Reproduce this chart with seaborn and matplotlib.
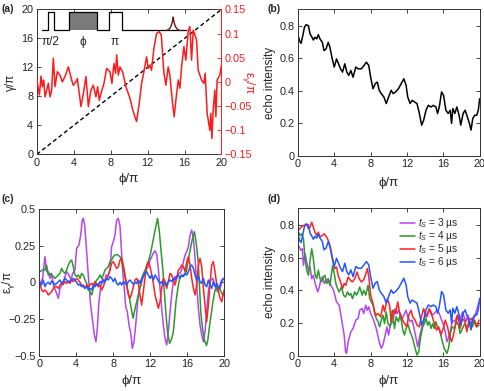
import numpy as np
import matplotlib
matplotlib.use("Agg")
import matplotlib.pyplot as plt
import seaborn as sns

# ---------------- data ----------------
# (a) red curve, epsilon_gamma/pi vs phi/pi
a_phi = [0.00,0.29,0.47,0.61,0.76,0.90,1.26,1.44,1.62,1.80,1.98,2.23,2.52,2.77,3.06,3.42,3.78,3.96,4.22,4.40,
         4.79,5.05,5.33,5.59,5.87,6.13,6.41,6.59,6.77,6.95,7.28,7.57,7.93,8.14,8.36,8.54,8.65,8.83,9.01,9.30,
         9.66,10.09,10.45,10.81,11.10,11.35,11.60,11.89,12.07,12.25,12.43,12.68,12.97,13.26,13.48,13.77,13.98,
         14.23,14.41,14.70,14.88,15.06,15.32,15.50,15.68,15.93,16.14,16.40,16.58,16.76,16.94,17.30,17.48,17.84,
         18.09,18.23,18.45,18.74,18.85,18.96,19.10,19.28,19.39,19.53,19.82,20.00]
a_eps = [0.007,-0.027,0.012,-0.010,0.004,-0.031,-0.003,-0.031,-0.017,0.049,-0.010,0.021,0.014,0.000,0.011,0.031,
         0.004,-0.007,0.000,0.007,-0.051,-0.024,0.011,-0.051,-0.017,-0.007,-0.031,-0.010,-0.038,-0.024,-0.003,
         0.028,0.021,-0.003,0.038,0.018,0.056,0.014,0.031,0.021,-0.010,-0.034,-0.062,-0.082,-0.044,-0.003,0.021,
         0.052,0.028,0.035,0.024,0.069,0.100,0.104,0.097,0.018,-0.007,0.031,0.014,-0.044,-0.072,-0.038,0.004,
         -0.013,0.031,0.073,0.045,0.107,0.114,0.045,0.107,0.087,0.024,0.004,-0.003,0.018,-0.065,-0.100,-0.065,
         -0.117,-0.058,-0.017,-0.072,0.004,0.014,0.035]
a_diag_phi = [0, 20]
a_diag_gamma = [0, 20]
# pulse-sequence sketch (inset of panel a)
seq_x = [0.57,1.26,1.26,1.90,1.90,3.53,3.53,6.52,6.52,7.78,7.78,9.22,9.22,16.14]
seq_y = [17.1,17.1,19.6,19.6,17.1,17.1,19.6,19.6,17.1,17.1,19.6,19.6,17.1,17.1]
seq_box = [3.53, 6.52]
seq_labels = ["π/2", "ϕ", "π"]
seq_label_x = [1.50, 5.04, 8.45]

# (b) echo intensity for t_s = 6 us (also blue in d)
b_phi = [0,0.18,0.36,0.55,0.73,0.91,1.17,1.35,1.53,1.71,1.89,2.08,2.26,2.44,2.70,2.88,3.10,3.35,3.53,3.79,
         4.01,4.26,4.48,4.70,4.92,5.17,5.39,5.61,5.83,6.08,6.38,6.63,6.99,7.29,7.54,7.80,8.01,8.27,8.52,8.74,
         8.96,9.18,9.47,9.73,9.98,10.27,10.49,10.75,11.07,11.37,11.66,11.91,12.09,12.35,12.57,12.82,13.11,13.37,
         13.62,13.84,14.10,14.35,14.65,14.90,15.19,15.37,15.56,15.81,16.03,16.28,16.54,16.76,16.91,17.05,17.27,
         17.49,17.74,17.92,18.18,18.40,18.65,18.87,19.05,19.24,19.45,19.67,19.85,20.00]
b_echo = [0.749,0.708,0.692,0.739,0.790,0.806,0.800,0.749,0.733,0.712,0.729,0.719,0.745,0.719,0.698,0.647,0.657,
          0.698,0.668,0.596,0.546,0.596,0.566,0.535,0.515,0.566,0.515,0.495,0.525,0.484,0.546,0.535,0.535,0.556,
          0.576,0.556,0.484,0.413,0.444,0.454,0.403,0.383,0.362,0.322,0.362,0.403,0.383,0.393,0.413,0.444,0.474,
          0.434,0.362,0.322,0.342,0.332,0.322,0.261,0.189,0.220,0.281,0.311,0.301,0.311,0.301,0.261,0.301,0.393,
          0.373,0.281,0.261,0.281,0.200,0.291,0.261,0.301,0.250,0.189,0.261,0.281,0.240,0.200,0.159,0.230,0.250,
          0.250,0.281,0.352]

# (c) epsilon_gamma/pi
c_phi_3 = [0.07,0.36,0.61,0.79,0.97,1.16,1.34,1.52,1.81,2.06,2.24,2.53,2.78,2.96,3.21,3.43,3.61,3.86,4.04,4.30,
           4.48,4.66,4.77,4.91,5.05,5.20,5.38,5.56,5.78,5.96,6.14,6.28,6.46,6.68,6.86,7.04,7.22,7.40,7.65,7.83,
           8.01,8.19,8.38,8.56,8.74,8.88,9.03,9.17,9.35,9.53,9.71,9.93,10.07,10.25,10.47,10.65,10.83,11.01,11.26,
           11.52,11.80,11.99,12.17,12.35,12.53,12.71,12.89,13.07,13.25,13.43,13.61,13.79,13.97,14.15,14.33,14.51,
           14.69,14.87,15.05,15.23,15.41,15.60,15.78,15.96,16.14,16.32,16.50,16.68,16.86,17.04,17.22,17.40,17.58,
           17.76,17.94,18.12,18.30,18.48,18.77,19.02,19.28,19.57,19.78,19.96]
c_eps_3 = [-0.007,0.027,0.175,0.073,0.073,0.027,0.061,-0.018,-0.064,-0.109,-0.041,-0.007,0.039,0.073,0.050,0.016,
           0.061,0.084,0.232,0.255,0.323,0.425,0.436,0.391,0.277,0.141,-0.018,-0.155,-0.268,-0.359,-0.405,-0.314,
           -0.132,-0.018,0.027,-0.007,0.050,0.039,0.084,0.243,0.277,0.323,0.425,0.436,0.380,0.232,0.073,-0.018,
           -0.166,-0.200,-0.291,-0.359,-0.450,-0.405,-0.268,-0.132,-0.052,-0.018,0.039,0.084,0.107,0.150,0.175,
           0.200,0.215,0.190,0.090,-0.041,-0.177,-0.291,-0.382,-0.427,-0.336,-0.200,-0.086,0.005,0.039,0.027,0.061,
           0.061,0.084,0.141,0.186,0.209,0.243,0.323,0.357,0.300,0.164,-0.018,-0.177,-0.291,-0.359,-0.405,-0.336,
           -0.200,-0.064,0.005,0.027,-0.018,-0.064,-0.041,0.005,0.027]
c_phi_4 = [0.07,0.36,0.61,0.79,0.97,1.16,1.34,1.52,1.70,1.88,2.06,2.24,2.42,2.60,2.78,2.96,3.14,3.32,3.50,3.68,
           3.86,4.04,4.22,4.40,4.58,4.77,4.95,5.13,5.31,5.49,5.67,5.85,6.03,6.21,6.39,6.57,6.75,6.93,7.11,7.29,
           7.47,7.65,7.83,8.01,8.19,8.45,8.8,9.1,9.4,9.7,9.9,10.15,10.4,10.7,10.95,11.2,11.5,11.8,12.05,12.3,
           12.55,12.8,13.0,13.2,13.4,13.55,13.75,13.9,14.1,14.3,14.5,14.65,14.8,15.0,15.2,15.4,15.55,15.75,15.9,
           16.1,16.3,16.55,16.8,17.0,17.2,17.35,17.5,17.7,17.9,18.1,18.25,18.4,18.6,18.8,19.0,19.2,19.35,19.5,
           19.7,19.9,20.0]
c_eps_4 = [0.073,0.084,0.084,0.118,0.050,0.061,0.050,0.039,0.027,0.039,0.050,0.061,0.095,0.073,0.061,0.084,0.118,
           0.141,0.152,0.107,0.050,0.039,0.050,0.027,0.061,0.050,0.016,-0.007,-0.041,-0.064,-0.086,-0.041,-0.007,
           0.016,0.027,0.050,0.027,0.050,0.084,0.095,0.107,0.141,0.152,0.175,0.186,0.19,0.17,0.09,0.0,-0.09,-0.16,
           -0.245,-0.17,-0.09,-0.02,0.05,0.09,0.14,0.20,0.28,0.36,0.436,0.345,0.2,0.07,-0.08,-0.245,-0.35,-0.416,
           -0.39,-0.34,-0.24,-0.13,-0.04,0.03,0.05,0.04,0.06,0.07,0.14,0.21,0.29,0.345,0.26,0.14,-0.04,-0.22,-0.33,
           -0.40,-0.43,-0.39,-0.31,-0.22,-0.13,-0.06,-0.02,-0.03,-0.04,-0.07,-0.09,-0.05]
c_phi_56 = [0.07,0.25,0.43,0.61,0.79,0.97,1.16,1.34,1.52,1.70,1.88,2.06,2.24,2.42,2.60,2.78,2.96,3.14,3.32,3.50,
            3.68,3.86,4.04,4.22,4.40,4.58,4.77,4.95,5.13,5.31,5.49,5.67,5.85,6.03,6.21,6.39,6.57,6.75,6.93,7.11,
            7.29,7.47,7.65,7.83,8.01,8.19,8.38,8.56,8.74,8.92,9.10,9.28,9.46,9.64,9.82,10.00,10.18,10.36,10.54,
            10.72,10.90,11.08,11.26,11.44,11.62,11.80,11.99,12.17,12.35,12.53,12.71,12.89,13.07,13.25,13.43,13.61,
            13.79,13.97,14.15,14.33,14.51,14.69,14.87,15.05,15.23,15.41,15.60,15.78,15.96,16.14,16.32,16.50,16.68,
            16.86,17.04,17.22,17.40,17.58,17.76,17.94,18.12,18.30,18.48,18.66,18.84,19.02,19.21,19.39,19.57,19.75,
            19.96]
c_eps_5 = [-0.007,-0.052,-0.064,-0.052,-0.064,-0.086,-0.075,-0.064,-0.041,-0.030,-0.030,-0.041,-0.018,-0.007,
           -0.014,0.005,-0.007,0.009,-0.007,0.016,0.005,0.016,0.027,0.016,0.000,-0.018,-0.030,-0.041,-0.018,-0.030,
           -0.018,-0.007,-0.018,0.005,-0.018,-0.030,-0.018,-0.052,-0.030,0.005,0.027,0.050,0.084,0.130,0.141,
           0.118,0.095,0.107,0.152,0.164,0.118,0.050,-0.018,-0.086,-0.109,-0.075,-0.030,0.016,0.027,-0.007,
           -0.086,-0.155,-0.064,0.027,0.118,0.141,0.107,0.050,-0.007,-0.086,-0.132,-0.177,-0.132,-0.041,0.027,
           0.005,-0.041,0.005,0.061,0.050,0.016,-0.018,0.027,0.084,0.095,0.118,0.107,0.073,0.141,0.175,
           0.118,0.027,-0.041,-0.086,-0.018,0.118,0.164,0.107,-0.041,-0.155,-0.268,-0.155,-0.007,0.118,0.141,
           0.073,-0.018,-0.064,-0.109,-0.132,-0.064]
c_eps_6 = [-0.007,-0.018,0.016,-0.030,-0.007,0.000,-0.014,0.009,0.000,-0.018,-0.007,0.005,0.016,-0.007,0.005,
           0.027,0.016,0.000,0.009,0.016,0.027,0.016,0.000,-0.018,-0.014,-0.030,-0.018,-0.041,-0.030,-0.052,
           -0.041,-0.052,-0.018,-0.030,-0.007,-0.018,0.005,-0.007,0.016,0.005,0.027,0.016,0.039,0.027,0.005,
           0.027,-0.007,-0.018,0.000,-0.018,0.005,-0.007,-0.018,0.005,0.016,0.000,-0.014,0.000,-0.007,0.016,
           -0.007,0.027,0.039,0.061,0.073,0.050,0.027,0.050,0.016,0.050,0.032,0.009,-0.007,0.005,-0.018,
           0.000,-0.018,0.005,0.016,0.005,0.027,0.016,0.039,0.050,0.027,0.050,0.039,0.061,0.050,0.073,
           0.107,0.118,0.095,0.050,0.016,0.039,0.005,-0.007,0.027,-0.018,-0.030,0.016,-0.018,-0.041,0.005,
           -0.030,-0.007,-0.041,-0.018,0.016,0.027]

# (d) echo intensity
d_phi_3 = [0.07,0.36,0.51,0.62,0.80,0.98,1.17,1.35,1.53,1.71,1.97,2.19,2.37,2.55,2.73,2.91,3.10,3.35,3.64,3.93,
           4.26,4.55,4.74,4.92,5.10,5.25,5.36,5.54,5.83,6.08,6.38,6.63,6.81,7.07,7.25,7.47,7.65,7.80,8.01,8.27,
           8.63,9.00,9.18,9.36,9.62,9.80,9.98,10.16,10.46,10.71,10.93,11.11,11.37,11.66,11.91,12.09,12.35,12.57,
           12.75,13.01,13.19,13.44,13.66,13.92,14.21,14.46,14.72,15.01,15.30,15.56,15.81,16.03,16.21,16.39,16.54,
           16.76,17.01,17.27,17.56,17.85,18.11,18.48,18.72,19.02,19.38,19.67,19.93]
d_echo_3 = [0.674,0.644,0.654,0.553,0.624,0.573,0.523,0.543,0.472,0.492,0.431,0.391,0.421,0.472,0.482,0.442,0.462,
            0.472,0.431,0.401,0.330,0.310,0.249,0.188,0.128,0.026,0.016,0.087,0.148,0.168,0.219,0.229,0.279,0.290,
            0.259,0.310,0.279,0.300,0.259,0.229,0.168,0.077,0.047,0.067,0.128,0.178,0.128,0.188,0.209,0.290,0.259,
            0.279,0.219,0.249,0.279,0.239,0.209,0.219,0.178,0.107,0.057,0.128,0.178,0.229,0.259,0.279,0.249,0.259,
            0.279,0.259,0.219,0.188,0.148,0.087,0.107,0.148,0.219,0.209,0.249,0.219,0.269,0.209,0.249,0.198,0.229,
            0.279,0.330]
d_phi_4 = [0.07,0.26,0.44,0.62,0.80,0.98,1.17,1.35,1.53,1.71,1.89,2.08,2.26,2.44,2.62,2.81,2.99,3.17,3.35,3.53,
           3.83,4.01,4.19,4.37,4.55,4.81,5.03,5.25,5.46,5.65,5.83,6.01,6.27,6.45,6.63,6.81,7.07,7.25,7.47,7.72,
           7.91,8.09,8.27,8.45,8.63,8.82,9.00,9.18,9.36,9.54,9.73,9.91,10.16,10.38,10.64,10.82,11.07,11.29,11.55,
           11.73,11.91,12.09,12.35,12.64,12.90,13.11,13.30,13.48,13.73,13.92,14.10,14.28,14.46,14.65,14.83,15.01,
           15.19,15.37,15.63,15.81,16.10,16.39,16.58,16.76,16.94,17.19,17.45,17.67,17.85,18.11,18.36,18.65,18.91,
           19.20,19.45,19.67,19.93]
d_echo_4 = [0.755,0.735,0.745,0.715,0.593,0.523,0.492,0.583,0.654,0.593,0.502,0.472,0.523,0.472,0.452,0.482,0.492,
            0.442,0.462,0.431,0.553,0.502,0.442,0.411,0.391,0.421,0.371,0.360,0.391,0.371,0.381,0.350,0.391,0.371,
            0.391,0.421,0.371,0.401,0.371,0.431,0.350,0.330,0.310,0.259,0.229,0.209,0.178,0.219,0.249,0.198,0.269,
            0.198,0.178,0.279,0.168,0.239,0.209,0.259,0.158,0.128,0.168,0.198,0.148,0.107,0.047,0.006,0.026,0.107,
            0.178,0.198,0.229,0.188,0.209,0.168,0.198,0.168,0.209,0.178,0.158,0.107,0.047,0.016,0.047,0.128,0.178,
            0.168,0.209,0.188,0.138,0.168,0.198,0.168,0.209,0.178,0.219,0.178,0.188]
d_phi_5 = [0.07,0.36,0.62,0.98,1.17,1.35,1.53,1.71,1.89,2.08,2.26,2.44,2.70,2.91,3.17,3.35,3.53,3.72,3.90,4.08,
           4.26,4.44,4.70,4.92,5.10,5.28,5.54,5.79,6.01,6.27,6.52,6.74,6.99,7.21,7.43,7.65,7.83,8.01,8.27,8.45,
           8.63,8.82,9.11,9.36,9.54,9.84,10.09,10.27,10.53,10.75,11.00,11.18,11.44,11.73,11.99,12.20,12.46,12.64,
           12.90,13.11,13.37,13.55,13.84,14.03,14.21,14.46,14.65,14.90,15.08,15.26,15.48,15.74,15.99,16.21,16.47,
           16.65,16.91,17.12,17.30,17.56,17.85,18.11,18.40,18.58,18.83,19.09,19.38,19.67,19.93]
d_echo_5 = [0.766,0.786,0.796,0.800,0.776,0.786,0.816,0.786,0.755,0.735,0.755,0.725,0.735,0.745,0.725,0.705,0.674,
            0.624,0.573,0.533,0.543,0.492,0.452,0.411,0.442,0.431,0.482,0.462,0.452,0.472,0.512,0.472,0.452,0.462,
            0.492,0.533,0.472,0.371,0.320,0.269,0.249,0.259,0.239,0.310,0.269,0.350,0.310,0.209,0.279,0.259,0.330,
            0.269,0.229,0.198,0.178,0.249,0.279,0.239,0.219,0.188,0.178,0.229,0.290,0.249,0.239,0.290,0.269,0.219,
            0.188,0.158,0.178,0.128,0.168,0.219,0.178,0.128,0.087,0.128,0.178,0.249,0.168,0.229,0.209,0.148,0.219,
            0.229,0.209,0.178,0.219]

ts_labels = [r"$t_S$ = 3 µs", r"$t_S$ = 4 µs", r"$t_S$ = 5 µs", r"$t_S$ = 6 µs"]
ts_colors = ["#b446f0", "#2a9a2a", "#ff2222", "#2255ff"]

phi_ticks = [0, 4, 8, 12, 16, 20]
gamma_ticks = [0, 4, 8, 12, 16, 20]
eps_a_ticks = [-0.15, -0.1, -0.05, 0, 0.05, 0.1, 0.15]
eps_a_ticklabels = ["−0.15", "−0.1", "−0.05", "0", "0.05", "0.1", "0.15"]
echo_ticks = [0, 0.2, 0.4, 0.6, 0.8]
echo_ticklabels = ["0", "0.2", "0.4", "0.6", "0.8"]
eps_c_ticks = [-0.5, -0.25, 0, 0.25, 0.5]
eps_c_ticklabels = ["−0.5", "−0.25", "0", "0.25", "0.5"]

# ---------------- style ----------------
sns.set_style("ticks")
plt.rcParams['font.family'] = ['Liberation Sans', 'DejaVu Sans']
plt.rcParams['mathtext.fontset'] = 'custom'
plt.rcParams['mathtext.rm'] = 'Liberation Sans'
plt.rcParams['mathtext.it'] = 'Liberation Sans:italic'
plt.rcParams['mathtext.bf'] = 'Liberation Sans:bold'
plt.rcParams['xtick.direction'] = 'in'
plt.rcParams['ytick.direction'] = 'in'
plt.rcParams['xtick.major.size'] = 3
plt.rcParams['ytick.major.size'] = 3
plt.rcParams['xtick.major.width'] = 0.6
plt.rcParams['ytick.major.width'] = 0.6
plt.rcParams['axes.linewidth'] = 0.7
plt.rcParams['axes.edgecolor'] = '#333333'
plt.rcParams['xtick.major.pad'] = 2.5
plt.rcParams['ytick.major.pad'] = 2.5

TICK_FS = 7.8
LAB_FS = 8.5
XLAB_FS = 9.5
LW = 1.1

fig = plt.figure(figsize=(4.85, 3.91), dpi=100)

def line(ax, x, y, **kw):
    sns.lineplot(x=x, y=y, ax=ax, estimator=None, errorbar=None, sort=False, **kw)

def style_box(ax, right=True):
    ax.tick_params(axis='both', labelsize=TICK_FS, top=True, right=right,
                   colors='#222222')
    for s in ax.spines.values():
        s.set_visible(True)

# ---------------- (a) ----------------
axA = fig.add_axes([0.0757, 0.605, 0.381, 0.371])
line(axA, a_diag_phi, a_diag_gamma, color='black', linewidth=1.0,
     linestyle=(0, (3, 2)), legend=False)
# pulse-sequence sketch
axA.fill_between(seq_box, 17.1, 19.6, color='#7a7a7a', linewidth=0)
line(axA, seq_x, seq_y, color='black', linewidth=0.9, legend=False)
ex = np.linspace(14.05, 15.55, 80)
ey = 17.1 + 1.9 * (np.exp(-np.abs(ex - 14.77) / 0.22) - np.exp(-0.75 / 0.22))
axA.plot(ex, ey, color='#6b1515', linewidth=1.0)
for lab, lx in zip(seq_labels, seq_label_x):
    axA.text(lx, 15.55, lab, ha='center', va='center', fontsize=8.5)
axA.set_xlim(0, 20)
axA.set_ylim(0, 20)
axA.set_xticks(phi_ticks)
axA.set_yticks(gamma_ticks)
style_box(axA, right=False)
axA.spines['right'].set_visible(False)
axA.set_xlabel("ϕ/π", fontsize=XLAB_FS)
axA.set_ylabel("γ/π", fontsize=LAB_FS)
axA.yaxis.set_label_coords(-0.105, 0.5)
axA.xaxis.set_label_coords(0.5, -0.13)

axA2 = axA.twinx()
line(axA2, a_phi, a_eps, color='#ff1a1a', linewidth=LW, legend=False)
axA2.set_ylim(-0.15, 0.15)
axA2.set_yticks(eps_a_ticks)
axA2.set_yticklabels(eps_a_ticklabels)
axA2.tick_params(axis='y', colors='#ff1a1a', labelsize=TICK_FS, direction='in', right=True)
for side in ['left', 'top', 'bottom']:
    axA2.spines[side].set_visible(False)
axA2.spines['right'].set_visible(True)
axA2.spines['right'].set_color('#ff1a1a')
axA2.set_ylabel(r"$\mathregular{ε_{γ}/π}$", fontsize=LAB_FS, color='#ff1a1a', rotation=270)
axA2.yaxis.set_label_coords(1.19, 0.5)

# ---------------- (b) ----------------
axB = fig.add_axes([0.614, 0.601, 0.375, 0.375])
line(axB, b_phi, b_echo, color='black', linewidth=LW, legend=False)
axB.set_xlim(0, 20)
axB.set_ylim(0, 0.9)
axB.set_xticks(phi_ticks)
axB.set_yticks(echo_ticks)
axB.set_yticklabels(echo_ticklabels)
style_box(axB)
axB.set_xlabel("ϕ/π", fontsize=XLAB_FS)
axB.set_ylabel("echo intensity", fontsize=LAB_FS)
axB.yaxis.set_label_coords(-0.12, 0.5)
axB.xaxis.set_label_coords(0.5, -0.14)

# ---------------- (c) ----------------
axC = fig.add_axes([0.081, 0.0903, 0.381, 0.3752])
c_series = [(c_phi_3, c_eps_3), (c_phi_4, c_eps_4), (c_phi_56, c_eps_5), (c_phi_56, c_eps_6)]
for (px, py), col in zip(c_series, ts_colors):
    line(axC, px, py, color=col, linewidth=LW, legend=False)
axC.set_xlim(0, 20)
axC.set_ylim(-0.5, 0.5)
axC.set_xticks(phi_ticks)
axC.set_yticks(eps_c_ticks)
axC.set_yticklabels(eps_c_ticklabels)
style_box(axC)
axC.set_xlabel("ϕ/π", fontsize=XLAB_FS)
axC.set_ylabel(r"$\mathregular{ε_{γ}/π}$", fontsize=LAB_FS)
axC.yaxis.set_label_coords(-0.12, 0.5)
axC.xaxis.set_label_coords(0.5, -0.13)

# ---------------- (d) ----------------
axD = fig.add_axes([0.614, 0.0895, 0.375, 0.3775])
d_series = [(d_phi_3, d_echo_3), (d_phi_4, d_echo_4), (d_phi_5, d_echo_5), (b_phi, b_echo)]
for (px, py), col, lab in zip(d_series, ts_colors, ts_labels):
    line(axD, px, py, color=col, linewidth=LW, label=lab)
axD.set_xlim(0, 20)
axD.set_ylim(0, 0.9)
axD.set_xticks(phi_ticks)
axD.set_yticks(echo_ticks)
axD.set_yticklabels(echo_ticklabels)
style_box(axD)
axD.set_xlabel("ϕ/π", fontsize=XLAB_FS)
axD.set_ylabel("echo intensity", fontsize=LAB_FS)
axD.yaxis.set_label_coords(-0.12, 0.5)
axD.xaxis.set_label_coords(0.5, -0.13)
axD.legend(loc='upper right', frameon=False, fontsize=7.3, handlelength=1.5,
           handletextpad=0.3, labelspacing=-0.1, borderaxespad=0.0,
           bbox_to_anchor=(0.905, 0.975))

# panel labels
for lab, fx, fy in [("(a)", 0.004, 0.978), ("(b)", 0.552, 0.978),
                    ("(c)", 0.004, 0.492), ("(d)", 0.552, 0.492)]:
    fig.text(fx, fy, lab, fontsize=7.5, fontweight='bold', ha='left', va='center')

fig.savefig("out.png", dpi=100)
